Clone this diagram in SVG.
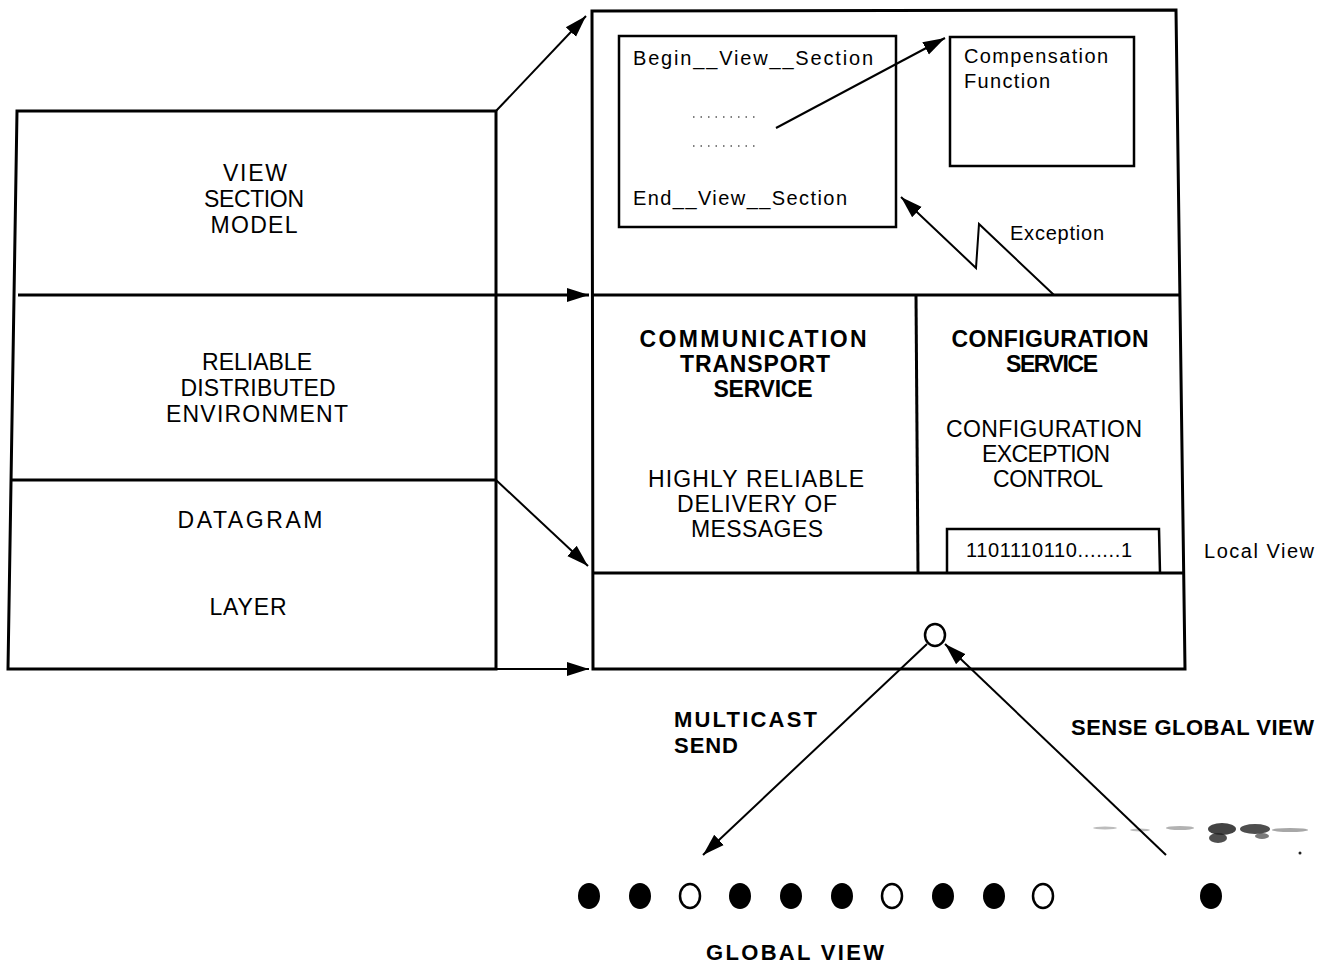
<svg xmlns="http://www.w3.org/2000/svg" width="1332" height="966" viewBox="0 0 1332 966">
<defs>
<style>
.box{fill:none;stroke:#000;stroke-width:3;stroke-linejoin:miter}
.ibox{fill:none;stroke:#000;stroke-width:2.5}
.ln{fill:none;stroke:#000;stroke-width:2}
text{font-family:"Liberation Sans",Arial,sans-serif;fill:#000}
.t{font-size:23px;text-anchor:middle}
.b{font-size:23px;font-weight:bold;text-anchor:middle}
.s{font-size:20px}
.m{font-size:22px;font-weight:bold}
.dot{fill:#000}
.odot{fill:#fff;stroke:#000;stroke-width:2.5}
</style>
<marker id="ah" markerUnits="userSpaceOnUse" markerWidth="24" markerHeight="16" refX="22" refY="7" orient="auto" viewBox="0 0 24 14">
<path d="M0,0 L22,7 L0,14 Z" fill="#000"/>
</marker>
</defs>
<rect width="1332" height="966" fill="#fff"/>

<g id="left-stack">
<polygon class="box" points="17,111 496,111 496,669 8,669"/>
<line class="box" x1="12" y1="480" x2="496" y2="480"/>
<text class="t" x="255" y="181" textLength="64">VIEW</text>
<text class="t" x="254" y="207" textLength="100">SECTION</text>
<text class="t" x="254" y="233" textLength="87">MODEL</text>
<text class="t" x="257" y="370" textLength="110">RELIABLE</text>
<text class="t" x="258" y="396" textLength="155">DISTRIBUTED</text>
<text class="t" x="257" y="422" textLength="182">ENVIRONMENT</text>
<text class="t" x="250" y="528" textLength="145">DATAGRAM</text>
<text class="t" x="248" y="615" textLength="77">LAYER</text>
</g>

<g id="right-box">
<polygon class="box" points="592,11 1176,10 1185,669 593,669"/>
<line class="box" x1="592" y1="295" x2="1180" y2="295"/>
<line class="box" x1="592" y1="573" x2="1184" y2="573"/>
<line class="box" x1="916" y1="295" x2="918" y2="573"/>
</g>

<g id="view-section-code">
<rect class="ibox" x="619" y="36" width="277" height="191"/>
<text class="s" x="633" y="65" textLength="240">Begin__View__Section</text>
<text class="s" x="633" y="205" textLength="214">End__View__Section</text>
<line x1="693" y1="117" x2="756" y2="117" stroke="#000" stroke-width="1.2" stroke-dasharray="1.5,6"/>
<line x1="693" y1="146" x2="756" y2="146" stroke="#000" stroke-width="1.2" stroke-dasharray="1.5,6"/>
</g>

<g id="compensation-function">
<rect class="ibox" x="950" y="37" width="184" height="129"/>
<text class="s" x="964" y="63" textLength="144">Compensation</text>
<text class="s" x="964" y="88" textLength="86">Function</text>
</g>

<g id="communication-transport">
<text class="b" x="753" y="347" textLength="227">COMMUNICATION</text>
<text class="b" x="755" y="372" textLength="150">TRANSPORT</text>
<text class="b" x="763" y="397" textLength="99">SERVICE</text>
<text class="t" x="756" y="487" textLength="216">HIGHLY RELIABLE</text>
<text class="t" x="757" y="512" textLength="160">DELIVERY OF</text>
<text class="t" x="757" y="537" textLength="132">MESSAGES</text>
</g>

<g id="configuration-service">
<text class="b" x="1050" y="347" textLength="197">CONFIGURATION</text>
<text class="b" x="1052" y="372" textLength="92">SERVICE</text>
<text class="t" x="1044" y="437" textLength="196">CONFIGURATION</text>
<text class="t" x="1046" y="462" textLength="128">EXCEPTION</text>
<text class="t" x="1048" y="487" textLength="110">CONTROL</text>
</g>

<g id="local-view">
<polyline class="ibox" points="947,573 947,529 1159,529 1160,573"/>
<text class="s" x="966" y="557" textLength="166">1101110110.......1</text>
<text class="s" x="1204" y="558" textLength="110">Local View</text>
</g>

<g id="local-node">
<ellipse class="odot" cx="935" cy="635" rx="10" ry="11"/>
</g>

<g id="global-view">
<ellipse class="dot" cx="589" cy="896" rx="11" ry="13"/>
<ellipse class="dot" cx="640" cy="896" rx="11" ry="13"/>
<ellipse class="odot" cx="690" cy="896" rx="10" ry="12"/>
<ellipse class="dot" cx="740" cy="896" rx="11" ry="13"/>
<ellipse class="dot" cx="791" cy="896" rx="11" ry="13"/>
<ellipse class="dot" cx="842" cy="896" rx="11" ry="13"/>
<ellipse class="odot" cx="892" cy="896" rx="10" ry="12"/>
<ellipse class="dot" cx="943" cy="896" rx="11" ry="13"/>
<ellipse class="dot" cx="994" cy="896" rx="11" ry="13"/>
<ellipse class="odot" cx="1043" cy="896" rx="10" ry="12"/>
<ellipse class="dot" cx="1211" cy="896" rx="11" ry="13"/>
<text class="m" x="706" y="960" textLength="178">GLOBAL VIEW</text>
</g>

<g id="labels">
<text class="m" x="674" y="727" textLength="143">MULTICAST</text>
<text class="m" x="674" y="753" textLength="64">SEND</text>
<text class="m" x="1071" y="735" textLength="243">SENSE GLOBAL VIEW</text>
<text class="s" x="1010" y="240" textLength="94">Exception</text>
</g>

<g id="smudge" fill="#222">
<ellipse cx="1222" cy="829" rx="14" ry="6" opacity="0.85"/>
<ellipse cx="1218" cy="838" rx="9" ry="5" opacity="0.8"/>
<ellipse cx="1255" cy="829" rx="15" ry="5" opacity="0.8"/>
<ellipse cx="1262" cy="836" rx="7" ry="3" opacity="0.6"/>
<ellipse cx="1290" cy="830" rx="18" ry="2" opacity="0.4"/>
<ellipse cx="1180" cy="828" rx="14" ry="2" opacity="0.35"/>
<ellipse cx="1105" cy="828" rx="12" ry="1.5" opacity="0.3"/>
<ellipse cx="1140" cy="830" rx="10" ry="1.5" opacity="0.3"/>
<circle cx="1300" cy="853" r="1.5"/>
</g>

<g id="connectors">
<line class="ln" x1="496" y1="111" x2="586" y2="16" marker-end="url(#ah)"/>
<line class="box" x1="18" y1="295" x2="589" y2="295" marker-end="url(#ah)"/>
<line class="ln" x1="496" y1="480" x2="588" y2="566" marker-end="url(#ah)"/>
<line class="ln" x1="496" y1="669" x2="589" y2="669" marker-end="url(#ah)"/>
<line class="ln" x1="776" y1="128" x2="945" y2="38" marker-end="url(#ah)"/>
<polyline class="ln" points="1054,295 979,224 976,268 901,197" marker-end="url(#ah)"/>
<line class="ln" x1="927" y1="644" x2="703" y2="855" marker-end="url(#ah)"/>
<line class="ln" x1="1166" y1="855" x2="945" y2="644" marker-end="url(#ah)"/>
</g>
</svg>
